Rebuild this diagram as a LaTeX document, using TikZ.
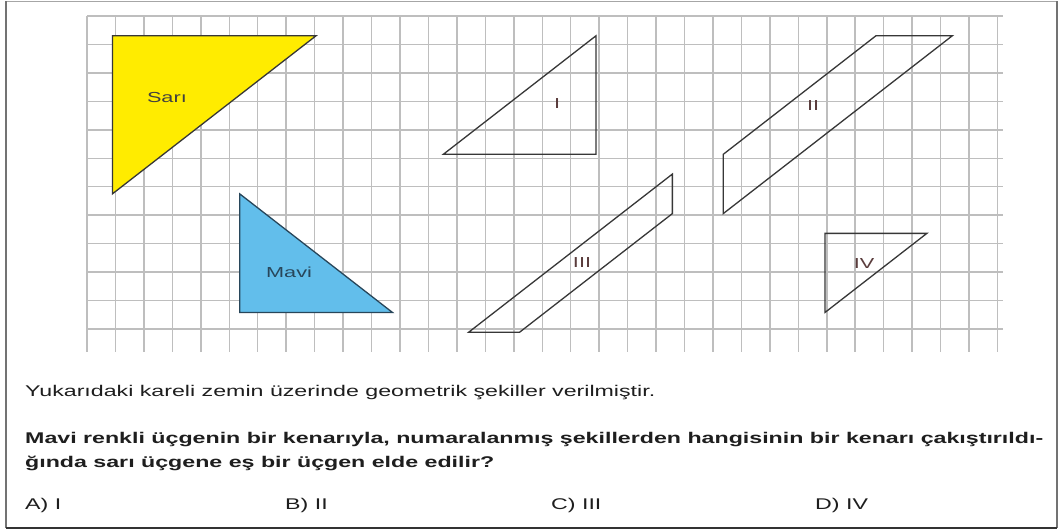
\documentclass[tikz,border=0pt]{standalone}
\usepackage{fontspec}
\setmainfont{Liberation Sans}
\usepackage{graphicx}
\definecolor{gridc}{RGB}{190,190,190}
\definecolor{edgec}{RGB}{55,55,55}
\definecolor{yel}{RGB}{255,236,0}
\definecolor{blu}{RGB}{98,190,235}
\definecolor{bluedge}{RGB}{40,70,90}
\definecolor{numc}{RGB}{90,60,60}
\definecolor{txtc}{RGB}{30,30,30}
\newlength\Ltwo
\settowidth\Ltwo{\fontsize{15.5}{18}\selectfont\bfseries Mavi renkli üçgenin bir kenarıyla, numaralanmış şekillerden hangisinin bir kenarı çakıştırıldı-}
\pgfmathsetmacro\xs{1018/\Ltwo}
\newcommand\sx[1]{\scalebox{\xs}[1]{#1}}
\tikzset{
  gridline/.style={draw=gridc,line width=1.5pt},
  shapeedge/.style={draw=edgec,line width=1.3pt,line join=miter},
  lbl/.style={inner sep=0pt,font=\fontsize{14.5}{16}\selectfont},
  numlbl/.style={lbl,text=numc},
  qtext/.style={inner sep=0pt,anchor=base west,text=txtc,font=\fontsize{15.5}{18}\selectfont},
}
\begin{document}
\begin{tikzpicture}[x=1pt,y=-1pt]
\useasboundingbox (0,0) rectangle (1059,531);
\fill[white] (0,0) rectangle (1059,531);
% frame
\draw[draw=gray!70,line width=1pt] (6,1) -- (1057,1);
\draw[draw=gray!90!black,line width=1.2pt] (6,1) -- (6,528);
\draw[draw=gray!90!black,line width=1.2pt] (1057,1) -- (1057,528);
\draw[draw=black!80,line width=2pt] (6,528) -- (1057,528);
\begin{scope}[shift={(87,16)},x=25.45pt,y=-19.76pt]
  \draw[gridline] (0,0) grid (36,17);
  % yellow
  \filldraw[fill=yel,shapeedge] (1,1) -- (9,1) -- (1,9) -- cycle;
  % blue
  \filldraw[fill=blu,draw=bluedge,line width=1.3pt] (6,9) -- (6,15) -- (12,15) -- cycle;
  % I
  \draw[shapeedge] (14,7) -- (20,1) -- (20,7) -- cycle;
  % II
  \draw[shapeedge] (25,10) -- (25,7) -- (31,1) -- (34,1) -- cycle;
  % III
  \draw[shapeedge] (15,16) -- (17,16) -- (23,10) -- (23,8) -- cycle;
  % IV
  \draw[shapeedge] (29,11) -- (33,11) -- (29,15) -- cycle;
  \node[lbl,text=black!75] (sari) at (3.14,4.1) {\sx{Sarı}};
  \node[lbl,text=bluedge] (mavi) at (7.94,12.96) {\sx{Mavi}};
  \node[numlbl] (n1) at (18.47,4.45) {\sx{I}};
  \node[numlbl] (n2) at (28.53,4.55) {\sx{II}};
  \node[numlbl] (n3) at (19.45,12.5) {\sx{III}};
  \node[numlbl] (n4) at (30.53,12.55) {\sx{IV}};
\end{scope}
\node[qtext] (l1) at (25,396) {\sx{Yukarıdaki kareli zemin üzerinde geometrik şekiller verilmiştir.}};
\node[qtext,font=\fontsize{15.5}{18}\selectfont\bfseries] (l2) at (25,443) {\sx{Mavi renkli üçgenin bir kenarıyla, numaralanmış şekillerden hangisinin bir kenarı çakıştırıldı-}};
\node[qtext,font=\fontsize{15.5}{18}\selectfont\bfseries] (l3) at (25,467) {\sx{ğında sarı üçgene eş bir üçgen elde edilir?}};
\node[qtext] (ansA) at (25,509) {\sx{A) I}};
\node[qtext] (ansB) at (285,509) {\sx{B) II}};
\node[qtext] (ansC) at (551,509) {\sx{C) III}};
\node[qtext] (ansD) at (815,509) {\sx{D) IV}};
\end{tikzpicture}
\end{document}
